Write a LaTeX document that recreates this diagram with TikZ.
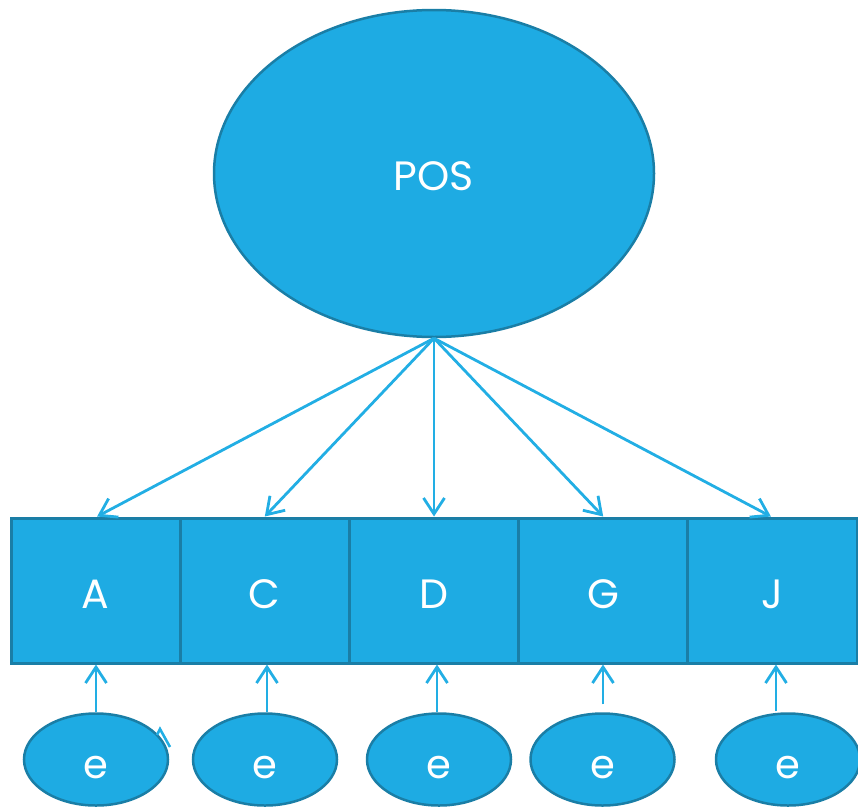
\documentclass[tikz,border=0pt]{standalone}
\usepackage{fontspec}
\setmainfont{Poppins}
\usetikzlibrary{shapes.geometric,arrows.meta}
\definecolor{fillblue}{HTML}{1EABE3}
\definecolor{edgeblue}{HTML}{1A7EA6}
\definecolor{linkblue}{HTML}{22AEE4}
\tikzset{
  latent/.style={ellipse, fill=fillblue, draw=edgeblue, line width=2.5pt, inner sep=0pt, text=white},
  itembox/.style={rectangle, fill=fillblue, draw=edgeblue, line width=3pt, minimum width=169.2pt, minimum height=145pt, inner sep=0pt, text=white, font=\fontsize{41}{43}\selectfont},
  errnode/.style={latent, minimum width=144pt, minimum height=92pt, font=\fontsize{40}{42}\selectfont},
  link/.style={draw=linkblue, line width=2.8pt, -{Straight Barb[length=16pt,width=21pt,line width=2.8pt]}}
}
\begin{document}
\begin{tikzpicture}[x=1pt,y=-1pt]
  \useasboundingbox (0,0) rectangle (858,806);
  % latent factor
  \node[latent, minimum width=440pt, minimum height=327pt] (pos) at (434,173.5) {};
  \node[text=white, font=\fontsize{41}{43}\selectfont] at (434,176.5) {POS};
  % indicator boxes
  \node[itembox] (bA) at (95.6,590.5) {};
  \node[itembox] (bC) at (264.8,590.5) {};
  \node[itembox] (bD) at (434,590.5) {};
  \node[itembox] (bG) at (603.2,590.5) {};
  \node[itembox] (bJ) at (772.4,590.5) {};
  \foreach \b/\t in {bA/A,bC/C,bD/D,bG/G,bJ/J}
    \node[text=white, font=\fontsize{41}{43}\selectfont] at ([yshift=-4pt]\b.center) {\t};
  % error terms
  \node[errnode] (e1) at (96,759.5) {};
  \node[errnode] (e2) at (265,759.5) {};
  \node[errnode] (e3) at (439,759.5) {};
  \node[errnode] (e4) at (602.5,759.5) {};
  \node[errnode] (e5) at (788,759.5) {};
  \foreach \e in {e1,e2,e3,e4,e5}
    \node[text=white, font=\fontsize{40}{42}\selectfont] at ([yshift=-8pt]\e.center) {e};
  % loadings
  \coordinate (src) at (pos.south);
  \draw[link] (src) -- ([xshift=1.5pt]bA.north);
  \draw[link] (src) -- (bC.north);
  \draw[link] (src) -- (bD.north);
  \draw[link] (src) -- (bG.north);
  \draw[link] (src) -- ([xshift=-1.5pt]bJ.north);
  % error paths
  \draw[link] (e1.north) -- (e1.north |- bA.south);
  \draw[link] ([xshift=2pt]e2.north) -- ([xshift=2pt]e2.north |- bC.south);
  \draw[link] ([xshift=-2pt]e3.north) -- ([xshift=-2pt]e3.north |- bD.south);
  \draw[link] ([xshift=0.5pt,yshift=8pt]e4.north) -- ([xshift=0.5pt]e4.north |- bG.south);
  \draw[link] ([xshift=-12pt,yshift=1pt]e5.north) -- ([xshift=-12pt]e5.north |- bJ.south);
  % small stray tip on the first error term
  \draw[linkblue, line width=2.6pt] (157,735) -- (160,729) -- (170,747);
\end{tikzpicture}
\end{document}
